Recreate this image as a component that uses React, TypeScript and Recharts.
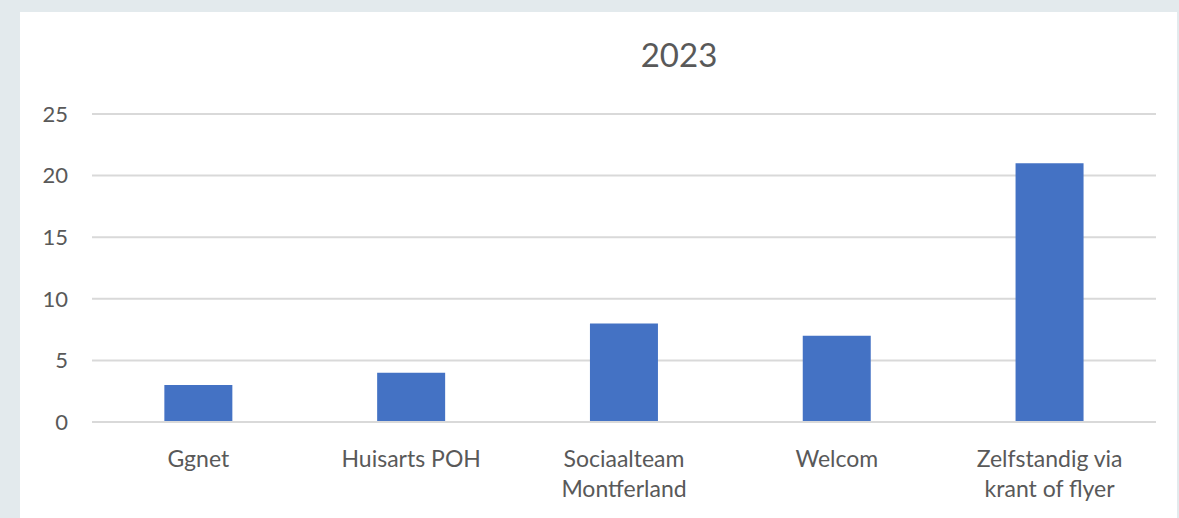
import { BarChart, Bar, XAxis, YAxis, CartesianGrid } from "recharts";

const categories = ["Ggnet", "Huisarts POH", "Sociaalteam\nMontferland", "Welcom", "Zelfstandig via\nkrant of flyer"];
const counts = [3, 4, 8, 7, 21];
const yTicks = [0, 5, 10, 15, 20, 25];
const title = "2023";

const data = categories.map((c, i) => ({ name: c, value: counts[i] }));

const FONT = "Lato, 'Open Sans', sans-serif";
const TEXT = "#595959";

const CategoryTick = ({ x, y, payload }: any) => {
  const lines = String(payload.value).split("\n");
  return (
    <text x={x} y={y} textAnchor="middle" fill={TEXT} fontSize={23} fontFamily={FONT}>
      {lines.map((l, i) => (
        <tspan key={i} x={x} dy={i === 0 ? 33 : 30}>
          {l}
        </tspan>
      ))}
    </text>
  );
};

export default function App() {
  return (
    <div style={{ position: "fixed", left: 0, top: 0, width: 1179, height: 518, background: "#e3eaed", overflow: "hidden" }}>
      <div style={{ position: "absolute", left: 20, top: 12, width: 1157, height: 506, background: "#ffffff" }}>
        {/* Title */}
        <div
          style={{
            position: "absolute",
            left: 0,
            top: 24,
            width: 1318,
            textAlign: "center",
            fontFamily: FONT,
            fontSize: 33,
            lineHeight: "36px",
            color: TEXT,
          }}
        >
          {title}
        </div>
        <BarChart
          width={1157}
          height={506}
          data={data}
          margin={{ top: 102, right: 21, bottom: 0, left: 0 }}
          barCategoryGap="34%"
        >
          <CartesianGrid vertical={false} stroke="#d9d9d9" strokeWidth={2} />
          <XAxis
            dataKey="name"
            axisLine={{ stroke: "#d9d9d9", strokeWidth: 2 }}
            tickLine={false}
            tickSize={0}
            tickMargin={12}
            interval={0}
            tick={<CategoryTick />}
            height={96}
          />
          <YAxis
            width={72}
            domain={[0, 25]}
            ticks={yTicks}
            axisLine={false}
            tickLine={false}
            tickSize={0}
            tickMargin={24}
            tick={{ fill: TEXT, fontSize: 22, fontFamily: FONT }}
          />
          <Bar dataKey="value" fill="#4472c4" isAnimationActive={false} />
        </BarChart>
      </div>
    </div>
  );
}
